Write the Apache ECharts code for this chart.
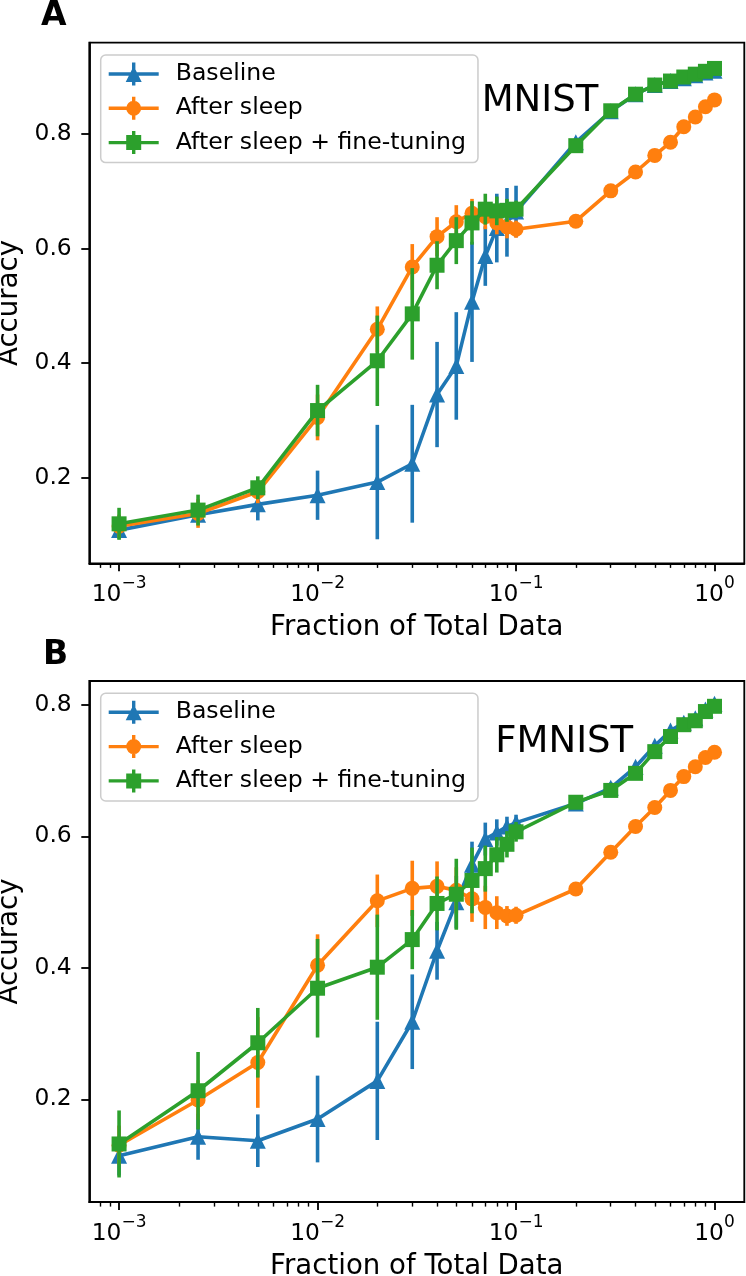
<!DOCTYPE html>
<html>
<head>
<meta charset="utf-8">
<script src="https://cdn.jsdelivr.net/npm/echarts@6/dist/echarts.min.js"></script>
<style>
  html, body { margin: 0; padding: 0; background: #fff; }
  #chart { width: 746px; height: 1276px; }
</style>
</head>
<body>
<div id="chart"></div>
<script>
// fraction of the training set used
const fractions = [0.001, 0.0025, 0.005, 0.01, 0.02, 0.03, 0.04, 0.05, 0.06, 0.07, 0.08, 0.09, 0.1, 0.2, 0.3, 0.4, 0.5, 0.6, 0.7, 0.8, 0.9, 1.0];
const xMajorTicks = [0.001, 0.01, 0.1, 1];
const xMinorTicks = [0.0008, 0.0009, 0.002, 0.003, 0.004, 0.005, 0.006, 0.007, 0.008, 0.009, 0.02, 0.03, 0.04, 0.05, 0.06, 0.07, 0.08, 0.09, 0.2, 0.3, 0.4, 0.5, 0.6, 0.7, 0.8, 0.9];
const yTicks = [0.2, 0.4, 0.6, 0.8];
const seriesNames = ['Baseline', 'After sleep', 'After sleep + fine-tuning'];

// MNIST
const mnistBaseline = [0.108, 0.135, 0.153, 0.169, 0.192, 0.224, 0.345, 0.395, 0.507, 0.587, 0.636, 0.646, 0.665, 0.786, 0.840, 0.870, 0.886, 0.893, 0.898, 0.903, 0.908, 0.911];
const mnistBaselineErr = [0.015, 0.015, 0.028, 0.043, 0.100, 0.103, 0.092, 0.094, 0.105, 0.052, 0.060, 0.060, 0.045, 0.008, 0.006, 0.005, 0.005, 0.005, 0.004, 0.004, 0.004, 0.004];
const mnistSleep = [0.115, 0.137, 0.175, 0.305, 0.459, 0.568, 0.621, 0.647, 0.662, 0.656, 0.645, 0.638, 0.634, 0.648, 0.701, 0.734, 0.763, 0.786, 0.813, 0.830, 0.848, 0.860];
const mnistSleepErr = [0.020, 0.025, 0.020, 0.040, 0.040, 0.040, 0.034, 0.029, 0.025, 0.022, 0.020, 0.020, 0.015, 0.008, 0.008, 0.008, 0.010, 0.010, 0.012, 0.010, 0.010, 0.008];
const mnistTuned = [0.119, 0.143, 0.182, 0.317, 0.404, 0.486, 0.571, 0.614, 0.645, 0.669, 0.666, 0.667, 0.669, 0.780, 0.841, 0.870, 0.886, 0.893, 0.900, 0.905, 0.910, 0.915];
const mnistTunedErr = [0.028, 0.027, 0.020, 0.045, 0.079, 0.080, 0.042, 0.041, 0.038, 0.027, 0.025, 0.020, 0.015, 0.006, 0.005, 0.005, 0.004, 0.004, 0.004, 0.004, 0.004, 0.004];

// FMNIST
const fmnistBaseline = [0.114, 0.143, 0.137, 0.170, 0.228, 0.318, 0.426, 0.500, 0.557, 0.596, 0.606, 0.615, 0.621, 0.650, 0.674, 0.706, 0.738, 0.761, 0.773, 0.780, 0.793, 0.802];
const fmnistBaselineErr = [0.030, 0.035, 0.040, 0.066, 0.090, 0.072, 0.044, 0.040, 0.035, 0.025, 0.020, 0.015, 0.012, 0.008, 0.008, 0.006, 0.006, 0.005, 0.005, 0.005, 0.005, 0.005];
const fmnistSleep = [0.130, 0.199, 0.256, 0.404, 0.502, 0.521, 0.524, 0.518, 0.505, 0.492, 0.484, 0.479, 0.480, 0.520, 0.576, 0.615, 0.644, 0.670, 0.691, 0.706, 0.720, 0.728];
const fmnistSleepErr = [0.030, 0.030, 0.069, 0.047, 0.040, 0.042, 0.038, 0.035, 0.035, 0.033, 0.025, 0.015, 0.013, 0.008, 0.008, 0.008, 0.008, 0.008, 0.008, 0.008, 0.006, 0.006];
const fmnistTuned = [0.132, 0.213, 0.286, 0.369, 0.401, 0.443, 0.498, 0.512, 0.533, 0.551, 0.572, 0.588, 0.607, 0.652, 0.670, 0.696, 0.729, 0.752, 0.770, 0.776, 0.790, 0.798];
const fmnistTunedErr = [0.051, 0.059, 0.053, 0.075, 0.080, 0.045, 0.041, 0.054, 0.050, 0.035, 0.027, 0.020, 0.015, 0.008, 0.008, 0.008, 0.006, 0.006, 0.005, 0.005, 0.005, 0.005];

const colors = ['#1f77b4', '#ff7f0e', '#2ca02c'];
const symbols = ['triangle', 'circle', 'rect'];
const symbolSizes = [16, 15, 15];
const font = 'DejaVu Sans';
const LW = 3.6;

// legend handles: line + marker + error bar, drawn in a 50x23 box
const legendIcons = [
  'path://M0 9.8H50V13.2H0Z M23.3 0H26.7V23H23.3Z M25 3.5L33 19.5H17Z',
  'path://M0 9.8H50V13.2H0Z M23.3 0H26.7V23H23.3Z M32.5 11.5A7.5 7.5 0 1 1 17.5 11.5A7.5 7.5 0 1 1 32.5 11.5Z',
  'path://M0 9.8H50V13.2H0Z M23.3 0H26.7V23H23.3Z M17.5 4H32.5V19H17.5Z'
];

const panels = [
  { top: 42.7, height: 520.6, yMin: 0.050, yMax: 0.960, values: [mnistBaseline, mnistSleep, mnistTuned], errs: [mnistBaselineErr, mnistSleepErr, mnistTunedErr] },
  { top: 681, height: 521, yMin: 0.0437, yMax: 0.8365, values: [fmnistBaseline, fmnistSleep, fmnistTuned], errs: [fmnistBaselineErr, fmnistSleepErr, fmnistTunedErr] }
];

const supDigits = v => {
  const e = Math.round(Math.log10(v));
  return '{b|10}{s|' + (e < 0 ? '\u2212' + (-e) : String(e)) + '}';
};

const grid = [], xAxis = [], yAxis = [], series = [], legend = [];

panels.forEach((p, i) => {
  grid.push({
    left: 89.3, top: p.top, width: 655, height: p.height,
    show: true, borderColor: '#000', borderWidth: 1.84, backgroundColor: '#fff',
    outerBoundsMode: 'none'
  });
  // main log axis
  xAxis.push({
    gridIndex: i, type: 'log', logBase: 10, position: 'bottom',
    min: Math.pow(10, -3.15), max: Math.pow(10, 0.15),
    axisLine: { show: true, lineStyle: { color: '#000', width: 1.84 } },
    axisTick: { show: true, customValues: xMajorTicks, length: 8, lineStyle: { color: '#000', width: 1.84 } },
    axisLabel: {
      show: true, customValues: xMajorTicks, margin: 12, formatter: supDigits,
      rich: {
        b: { fontSize: 23.4, fontFamily: font, color: '#000', verticalAlign: 'bottom', lineHeight: 31 },
        s: { fontSize: 17, fontFamily: font, color: '#000', verticalAlign: 'top', lineHeight: 17 }
      }
    },
    splitLine: { show: false },
    name: 'Fraction of Total Data', nameLocation: 'middle', nameGap: 51,
    nameTextStyle: { fontSize: 27.6, fontFamily: font, color: '#000' }
  });
  // minor ticks
  xAxis.push({
    gridIndex: i, type: 'log', logBase: 10, position: 'bottom',
    min: Math.pow(10, -3.15), max: Math.pow(10, 0.15),
    axisLine: { show: false },
    axisTick: { show: true, customValues: xMinorTicks, length: 4.6, lineStyle: { color: '#000', width: 1.4 } },
    axisLabel: { show: false },
    splitLine: { show: false }
  });
  yAxis.push({
    gridIndex: i, type: 'value', min: p.yMin, max: p.yMax,
    axisLine: { show: true, lineStyle: { color: '#000', width: 1.84 } },
    axisTick: { show: true, customValues: yTicks, length: 8, lineStyle: { color: '#000', width: 1.84 } },
    axisLabel: { show: true, customValues: yTicks, margin: 17.6, formatter: v => v.toFixed(1), fontSize: 23.4, fontFamily: font, color: '#000' },
    splitLine: { show: false },
    name: 'Accuracy', nameLocation: 'middle', nameGap: 55,
    nameTextStyle: { fontSize: 27.6, fontFamily: font, color: '#000' }
  });

  p.values.forEach((vals, k) => {
    const rows = fractions.map((f, j) => [f, vals[j], p.errs[k][j]]);
    series.push({
      type: 'custom', name: seriesNames[k], xAxisIndex: i * 2, yAxisIndex: i,
      z: 2 + k * 2, silent: true, clip: false,
      itemStyle: { color: colors[k] },
      encode: { x: 0, y: 1 },
      data: rows,
      renderItem: (params, api) => {
        const x = api.value(0), y = api.value(1), e = api.value(2);
        const lo = api.coord([x, y - e]);
        const hi = api.coord([x, y + e]);
        return {
          type: 'line',
          shape: { x1: lo[0], y1: lo[1], x2: hi[0], y2: hi[1] },
          style: { stroke: colors[k], lineWidth: LW }
        };
      }
    });
    series.push({
      type: 'line', name: seriesNames[k], xAxisIndex: i * 2, yAxisIndex: i,
      z: 3 + k * 2,
      data: rows.map(r => [r[0], r[1]]),
      symbol: symbols[k], symbolSize: symbolSizes[k], showSymbol: true,
      itemStyle: { color: colors[k], borderWidth: 0 },
      lineStyle: { color: colors[k], width: LW },
      emphasis: { disabled: true }
    });
  });

  legend.push({
    orient: 'vertical', left: 100.7, top: p.top + 12.3,
    selectedMode: false,
    data: seriesNames.map((n, k) => ({ name: n, icon: legendIcons[k], itemStyle: { color: colors[k], borderWidth: 0 } })),
    itemWidth: 50, itemHeight: 23, itemGap: 8.3,
    padding: [6, 12, 7, 8],
    backgroundColor: 'rgba(255,255,255,0.8)',
    borderColor: '#cccccc', borderWidth: 1.5, borderRadius: 5,
    textStyle: { fontSize: 23.6, fontFamily: font, color: '#000', lineHeight: 26, padding: [0, 0, 0, 12] }
  });
});

const chart = echarts.init(document.getElementById('chart'), null, { renderer: 'canvas' });
chart.setOption({
  animation: false,
  backgroundColor: '#fff',
  grid, xAxis, yAxis, series, legend,
  graphic: [
    { type: 'text', x: 41, y: 16.5, style: { text: 'A', font: 'bold 33px "DejaVu Sans"', fill: '#000', verticalAlign: 'middle' } },
    { type: 'text', x: 43, y: 655.5, style: { text: 'B', font: 'bold 33px "DejaVu Sans"', fill: '#000', verticalAlign: 'middle' } },
    { type: 'text', x: 540, y: 101.7, style: { text: 'MNIST', font: '37px "DejaVu Sans"', fill: '#000', align: 'center', verticalAlign: 'middle' } },
    { type: 'text', x: 564.2, y: 742, style: { text: 'FMNIST', font: '37px "DejaVu Sans"', fill: '#000', align: 'center', verticalAlign: 'middle' } }
  ]
});
</script>
</body>
</html>
